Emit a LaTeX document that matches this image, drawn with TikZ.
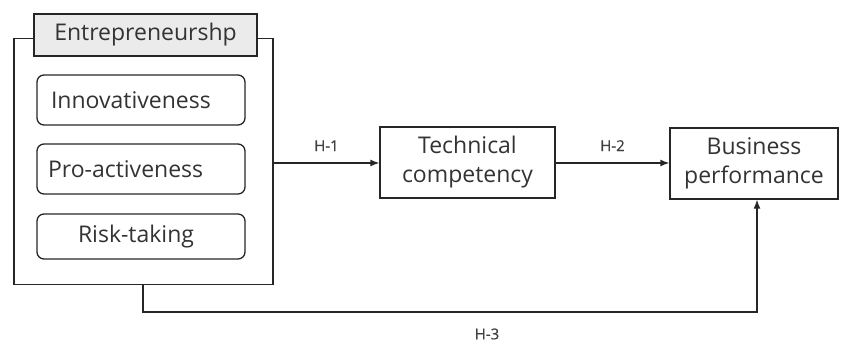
\documentclass[tikz,border=0pt]{standalone}
\usepackage{fontspec}
\setmainfont{Open Sans}
\newfontfamily\hfont[FakeBold=0.6]{Open Sans}
\usetikzlibrary{arrows.meta}
\begin{document}
\begin{tikzpicture}[x=1pt,y=-1pt,
  line width=1.3pt, draw=black!85,
  box/.style={draw, rectangle, inner sep=0pt, align=center, font=\fontsize{23}{29}\selectfont, text=black!80},
  rbox/.style={box, rounded corners=7pt, align=left, text width=208pt},
  hlab/.style={font=\hfont\fontsize{15}{17}\selectfont, text=black!75},
  arr/.style={-{Latex[length=9pt,width=7pt]}}]
\useasboundingbox (0,0) rectangle (844,344);
% outer group box
\node[draw, rectangle, inner sep=0pt, minimum width=259pt, minimum height=246pt] (outer) at (143.5,161.5) {};
\node[box, fill=black!8, minimum width=223pt, minimum height=42pt] (title) at (145.5,35) {Entrepreneurshp};
\node[rbox, minimum height=50pt] (inno) at (141,100) {\hspace*{14pt}Innovativeness};
\node[rbox, minimum height=50pt] (pro) at (141,169) {\hspace*{11pt}Pro-activeness};
\node[rbox, minimum height=45pt] (risk) at (141,236.5) {\hspace*{41pt}Risk-taking};
\node[box, minimum width=175pt, minimum height=71pt] (tech) at (467.5,162.5) {Technical\\competency};
\node[box, minimum width=168pt, minimum height=71pt] (bus) at (754,163.5) {Business\\performance};
\coordinate (stem) at (143,284.5);
\coordinate (c1) at (143,312);
\coordinate (c2) at (757,312);
\draw[arr] (outer.east |- 0,163) -- (tech.west |- 0,163) node[hlab, midway, above=8pt] {H-1};
\draw[arr] (tech.east |- 0,163) -- (bus.west |- 0,163) node[hlab, midway, above=8pt] {H-2};
\draw[arr] (stem) -- (c1) -- (c2) -- (c2 |- bus.south);
\node[hlab] (h3) at (487,334) {H-3};
\end{tikzpicture}
\end{document}
